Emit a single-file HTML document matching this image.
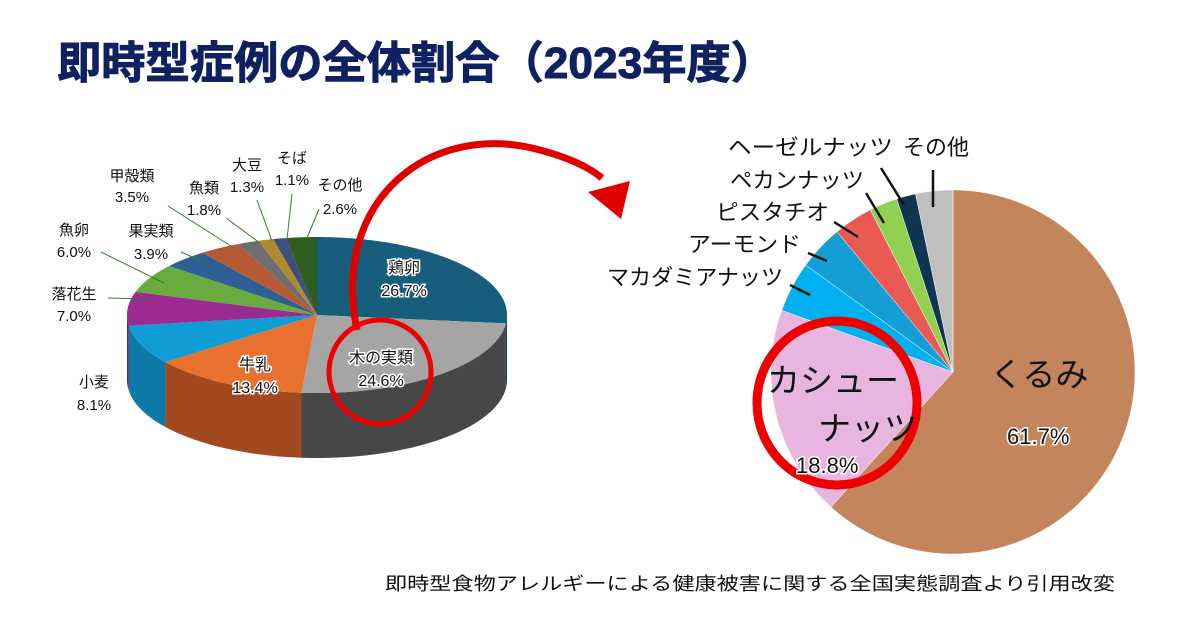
<!DOCTYPE html>
<html><head><meta charset="utf-8"><style>
body{margin:0;background:#fff;}
svg{display:block;}
text{font-family:"Liberation Sans","Noto Sans CJK JP",sans-serif;}
.lb{font-size:15px;fill:#111;}
.ct{font-size:16px;fill:#111;stroke:#fff;stroke-width:3px;paint-order:stroke;}
</style></head><body>
<svg id="s" width="1179" height="627" viewBox="0 0 1179 627" xmlns="http://www.w3.org/2000/svg">
<rect width="1179" height="627" fill="#fff"/>
<text x="57" y="78" font-size="44" font-weight="bold" fill="#0f2160" stroke="#0f2160" stroke-width="1" textLength="718" lengthAdjust="spacingAndGlyphs">即時型症例の全体割合（2023年度）</text>
<g id="left"></g>
<g id="right"></g>
<path d="M357,330 C330,200 430,120 540,150 C570,158 590,168 602,178" fill="none" stroke="#e00000" stroke-width="7"/>
<polygon points="588,192 630,181 621,219" fill="#e00000"/>
<ellipse cx="380" cy="372" rx="51" ry="52" fill="none" stroke="#ee0000" stroke-width="5"/>
<ellipse cx="837" cy="403" rx="80" ry="82" fill="none" stroke="#ee0000" stroke-width="9"/>
<g class="lb" text-anchor="middle">
<text x="132" y="181">甲殻類</text><text x="132" y="202">3.5%</text>
<text x="204" y="193">魚類</text><text x="204" y="215">1.8%</text>
<text x="247" y="170">大豆</text><text x="247" y="192">1.3%</text>
<text x="292" y="163">そば</text><text x="292" y="185">1.1%</text>
<text x="340" y="190">その他</text><text x="340" y="214">2.6%</text>
<text x="151" y="236">果実類</text><text x="151" y="259">3.9%</text>
<text x="74" y="235">魚卵</text><text x="74" y="257">6.0%</text>
<text x="74" y="299">落花生</text><text x="74" y="321">7.0%</text>
<text x="94" y="387">小麦</text><text x="94" y="410">8.1%</text>
</g>
<g stroke="#2e7d32" stroke-width="1" fill="none">
<path d="M168,206 L234,248"/><path d="M226,218 L260,243"/><path d="M257,200 L272,241"/>
<path d="M292,194 L287,239"/><path d="M319,209 L307,238"/><path d="M181,252 L206,263"/>
<path d="M101,252 L164,283"/><path d="M108,298 L147,299"/>
</g>
<g class="ct" text-anchor="middle">
<text x="404" y="273">鶏卵</text><text x="404" y="296">26.7%</text>
<text x="381" y="363">木の実類</text><text x="381" y="386">24.6%</text>
<text x="255" y="370">牛乳</text><text x="255" y="393">13.4%</text>
</g>
<g font-size="22" fill="#111">
<text x="728" y="155" textLength="165" lengthAdjust="spacingAndGlyphs">ヘーゼルナッツ</text>
<text x="903" y="155">その他</text>
<text x="730" y="188" textLength="134" lengthAdjust="spacingAndGlyphs">ペカンナッツ</text>
<text x="716" y="220" textLength="113" lengthAdjust="spacingAndGlyphs">ピスタチオ</text>
<text x="688" y="252" textLength="113" lengthAdjust="spacingAndGlyphs">アーモンド</text>
<text x="607" y="285" textLength="176" lengthAdjust="spacingAndGlyphs">マカダミアナッツ</text>
</g>
<g stroke="#111" stroke-width="2.5">
<line x1="881" y1="168" x2="904" y2="205"/><line x1="933" y1="170" x2="933" y2="207"/>
<line x1="866" y1="193" x2="884" y2="223"/><line x1="834" y1="222" x2="858" y2="237"/>
<line x1="808" y1="253" x2="827" y2="261"/><line x1="790" y1="285" x2="810" y2="295"/>
</g>
<g font-size="33" fill="#111">
<text x="767" y="392">カシュー</text>
<text x="818" y="440">ナッツ</text>
<text x="990" y="386">くるみ</text>
</g>
<text x="796" y="473" class="ct" style="font-size:22px">18.8%</text>
<text x="1007" y="444" class="ct" style="font-size:22px">61.7%</text>
<text x="385" y="590" font-size="18" fill="#111" textLength="730" lengthAdjust="spacingAndGlyphs">即時型食物アレルギーによる健康被害に関する全国実態調査より引用改変</text>
</svg>
<script>
var NS="http://www.w3.org/2000/svg";
function el(p,t,a){var e=document.createElementNS(NS,t);for(var k in a)e.setAttribute(k,a[k]);p.appendChild(e);return e;}
var L=document.getElementById('left');
var cx=317,cy=315,rx=190,ry=78,d=65;
var data=[[26.7,'#175e7d','#0f4158'],[24.6,'#a5a5a5','#474747'],[13.4,'#e8712f','#a3491f'],[8.1,'#109cd4','#0c7aa8'],[7.0,'#9c2b91','#6e1f66'],[6.0,'#6aaa3e','#4a772b'],[3.9,'#2e5f94','#204368'],[3.5,'#b55a35','#803f25'],[1.8,'#6e6e6e','#4d4d4d'],[1.3,'#b08a2e','#7b6120'],[1.1,'#3f4f7d','#2c3858'],[2.6,'#2e5e1f','#204216']];
function P(t,dy){t=t*Math.PI/180;return [cx+rx*Math.sin(t),cy-ry*Math.cos(t)+(dy||0)];}
var a=0,sl=[];
data.forEach(function(v){var b=a+v[0]*3.6;sl.push([a,b,v[1],v[2]]);a=b;});
sl.forEach(function(s){var t1=Math.max(s[0],90),t2=Math.min(s[1],270);if(t2<=t1)return;
 var p="M"+P(t1);for(var t=t1;t<=t2;t+=1)p+=" L"+P(t);p+=" L"+P(t2);
 for(var t=t2;t>=t1;t-=1)p+=" L"+P(t,d);p+=" L"+P(t1,d)+"Z";
 el(L,'path',{d:p,fill:s[3]});});
sl.forEach(function(s){var p="M"+cx+","+cy;for(var t=s[0];t<s[1];t+=0.5)p+=" L"+P(t);p+=" L"+P(s[1])+"Z";
 el(L,'path',{d:p,fill:s[2]});});
var R=document.getElementById('right');
var rc=[953,372],rr=182;
var rd=[[61.7,'#c4855c'],[18.8,'#e8b4e0'],[4.5,'#00b0ef'],[4.0,'#139fd6'],[3.5,'#e85a52'],[2.5,'#92d050'],[1.7,'#0f3550'],[3.3,'#bfbfbf']];
a=0;rd.forEach(function(v){var b=a+v[0]*3.6;var p="M"+rc;for(var t=a;t<b;t+=0.5){var r=t*Math.PI/180;p+=" L"+(rc[0]+rr*Math.sin(r))+","+(rc[1]-rr*Math.cos(r));}
 var r=b*Math.PI/180;p+=" L"+(rc[0]+rr*Math.sin(r))+","+(rc[1]-rr*Math.cos(r))+"Z";
 el(R,'path',{d:p,fill:v[1],stroke:'#fff','stroke-width':0.5});a=b;});
</script>
</body></html>
